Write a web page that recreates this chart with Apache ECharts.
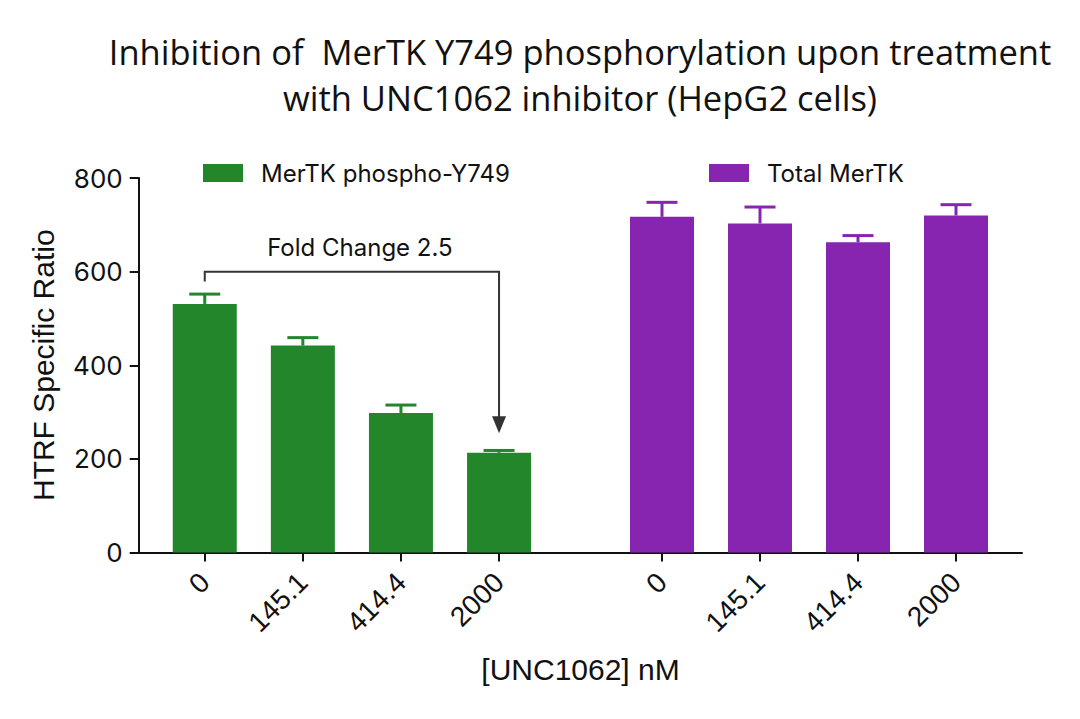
<!DOCTYPE html>
<html><head><meta charset="utf-8">
<script src="https://cdn.jsdelivr.net/npm/echarts@6/dist/echarts.min.js"></script>
<style>html,body{margin:0;padding:0;background:#fff}#c{width:1080px;height:719px}</style>
</head><body><div id="c"></div>
<script>
// ---- data ----
const categories = ['0', '145.1', '414.4', '2000'];
const phosphoName = 'MerTK phospho-Y749';
const totalName = 'Total MerTK';
const phosphoMean = [531, 442, 298, 213];
const phosphoSD = [21, 17, 17, 5];
const totalMean = [717, 703, 663, 720];
const totalSD = [31, 35, 14, 23];
const yMin = 0, yMax = 800, yStep = 200;
const foldChangeLabel = 'Fold Change 2.5';
const bracketFromIdx = 0, bracketToIdx = 3;
const bracketStart = 579, bracketLevel = 600, arrowTip = 255;
const titleLines = ['Inhibition of  MerTK Y749 phosphorylation upon treatment', 'with UNC1062 inhibitor (HepG2 cells)'];
const xAxisTitle = '[UNC1062] nM';
const yAxisTitle = 'HTRF Specific Ratio';

// ---- styles ----
const GREEN = '#23862b', PURPLE = '#8725b0', INK = '#111';
const GEO = 'Inter, Lato, "Noto Sans", sans-serif';
const ARIAL = '"Liberation Sans", Arial, sans-serif';
const TITLEF = '"Open Sans", "Noto Sans", sans-serif';
const TOP = 178, HEIGHT = 374.5;

function errRender(color) {
  return function (params, api) {
    const x = api.value(0), m = api.value(1), u = api.value(2);
    const p0 = api.coord([x, m]), p1 = api.coord([x, u]);
    const half = 15.5;
    return { type: 'group', children: [
      { type: 'line', shape: { x1: p0[0], y1: p0[1], x2: p1[0], y2: p1[1] }, style: { stroke: color, lineWidth: 3 } },
      { type: 'line', shape: { x1: p1[0] - half, y1: p1[1], x2: p1[0] + half, y2: p1[1] }, style: { stroke: color, lineWidth: 3 } }
    ]};
  };
}
function bracketRender(params, api) {
  const a = api.coord([api.value(0), api.value(2)]);
  const b = api.coord([api.value(0), api.value(3)]);
  const c = api.coord([api.value(1), api.value(3)]);
  const d = api.coord([api.value(1), api.value(4)]);
  const ah = 17, aw = 7;
  return { type: 'group', children: [
    { type: 'polyline', shape: { points: [a, b, c, [d[0], d[1] - ah + 1]] }, style: { stroke: '#333', lineWidth: 2, fill: null } },
    { type: 'polygon', shape: { points: [[d[0] - aw, d[1] - ah], [d[0] + aw, d[1] - ah], [d[0], d[1]]] }, style: { fill: '#333' } },
    { type: 'text', x: (b[0] + c[0]) / 2 + 8, y: b[1] - 24, style: { text: foldChangeLabel, font: '400 24px ' + GEO, fill: INK, align: 'center', verticalAlign: 'middle' } }
  ]};
}

const chart = echarts.init(document.getElementById('c'), null, { renderer: 'svg' });
chart.setOption({
  backgroundColor: '#fff',
  animation: false,
  title: {
    text: titleLines.join('\n'), left: 580, top: 28, padding: 0, textAlign: 'center',
    textStyle: { fontFamily: TITLEF, fontSize: 34.5, fontWeight: 400, color: INK, lineHeight: 46 }
  },
  legend: [
    { data: [phosphoName], left: 198, top: 156, itemWidth: 40, itemHeight: 18, icon: 'rect',
      textStyle: { fontFamily: GEO, fontSize: 24, color: INK, padding: [0, 0, 0, 13] } },
    { data: [totalName], left: 704, top: 156, itemWidth: 40, itemHeight: 18, icon: 'rect',
      textStyle: { fontFamily: GEO, fontSize: 24, color: INK, padding: [0, 0, 0, 13] } }
  ],
  grid: [
    { left: 155.7, width: 392.4, top: TOP, height: HEIGHT },
    { left: 613, width: 392, top: TOP, height: HEIGHT },
    { left: 139, width: 883, top: TOP, height: HEIGHT }
  ],
  xAxis: [0, 1].map(g => ({
    type: 'category', gridIndex: g, data: categories,
    axisLine: { show: false },
    axisTick: { show: true, alignWithLabel: true, length: 9, lineStyle: { color: INK, width: 2 } },
    axisLabel: { rotate: 45, margin: 25, fontFamily: ARIAL, fontSize: 28, color: INK }
  })).concat([{
    type: 'value', gridIndex: 2, min: 0, max: 1,
    axisLine: { show: true, lineStyle: { color: INK, width: 2 } },
    axisTick: { show: false }, axisLabel: { show: false }, splitLine: { show: false },
    name: xAxisTitle, nameLocation: 'middle', nameGap: 102,
    nameTextStyle: { fontFamily: ARIAL, fontSize: 30, color: INK }
  }]),
  yAxis: [
    { type: 'value', gridIndex: 0, min: yMin, max: yMax, interval: yStep, offset: 17,
      axisLine: { show: true, lineStyle: { color: INK, width: 2 } },
      axisTick: { show: true, length: 9, lineStyle: { color: INK, width: 2 } },
      axisLabel: { fontFamily: GEO, fontSize: 26, color: INK, margin: 16 },
      splitLine: { show: false },
      name: yAxisTitle, nameLocation: 'middle', nameGap: 80,
      nameTextStyle: { fontFamily: ARIAL, fontSize: 30, color: INK } },
    { type: 'value', gridIndex: 1, min: yMin, max: yMax, interval: yStep, show: false },
    { type: 'value', gridIndex: 2, min: yMin, max: yMax, interval: yStep, show: false }
  ],
  series: [
    { name: phosphoName, type: 'bar', xAxisIndex: 0, yAxisIndex: 0, barWidth: 64, data: phosphoMean, itemStyle: { color: GREEN } },
    { name: totalName, type: 'bar', xAxisIndex: 1, yAxisIndex: 1, barWidth: 64, data: totalMean, itemStyle: { color: PURPLE } },
    { type: 'custom', xAxisIndex: 0, yAxisIndex: 0, z: 3, silent: true, renderItem: errRender(GREEN), encode: { x: 0, y: [1, 2] },
      data: categories.map((c, i) => [i, phosphoMean[i], phosphoMean[i] + phosphoSD[i]]) },
    { type: 'custom', xAxisIndex: 1, yAxisIndex: 1, z: 3, silent: true, renderItem: errRender(PURPLE), encode: { x: 0, y: [1, 2] },
      data: categories.map((c, i) => [i, totalMean[i], totalMean[i] + totalSD[i]]) },
    { type: 'custom', xAxisIndex: 0, yAxisIndex: 0, z: 4, silent: true, renderItem: bracketRender, encode: { x: [0, 1], y: [2, 3, 4] },
      data: [[bracketFromIdx, bracketToIdx, bracketStart, bracketLevel, arrowTip]] }
  ]
});
</script></body></html>
